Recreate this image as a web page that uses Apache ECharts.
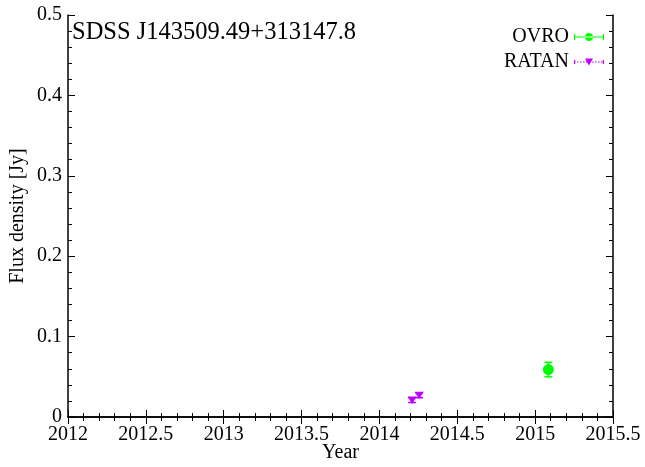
<!DOCTYPE html>
<html>
<head>
<meta charset="utf-8">
<script src="https://cdn.jsdelivr.net/npm/echarts@6/dist/echarts.min.js"></script>
<style>html,body{margin:0;padding:0;background:#fff;}#c{width:645px;height:467px;}</style>
</head>
<body>
<div id="c"></div>
<script>
var titleText = 'SDSS J143509.49+313147.8';
var xTicks = [2012, 2012.5, 2013, 2013.5, 2014, 2014.5, 2015, 2015.5];
var yTicks = [0, 0.1, 0.2, 0.3, 0.4, 0.5];
var ovroYear = [2015.085];
var ovroFlux = [0.059];
var ovroErr = [0.009];
var ratanYear = [2014.21, 2014.255];
var ratanFlux = [0.021, 0.027];
var ratanErr = [0.003, 0.003];

var FONT = 'Liberation Serif';
var ovroColor = '#00ff00';
var ratanColor = '#c000ff';

function zip(xs, ys, es) { return xs.map(function (x, i) { return [x, ys[i], es[i]]; }); }

function makeRender(kind, color) {
  return function (params, api) {
    var x = api.value(0), y = api.value(1), e = api.value(2);
    var p = api.coord([x, y]);
    var lo = api.coord([x, y - e]);
    var hi = api.coord([x, y + e]);
    var cap = 4;
    var children = [
      { type: 'line', shape: { x1: p[0], y1: lo[1], x2: p[0], y2: hi[1] }, style: { stroke: color, lineWidth: 1.5 } },
      { type: 'line', shape: { x1: p[0] - cap, y1: lo[1], x2: p[0] + cap, y2: lo[1] }, style: { stroke: color, lineWidth: 1.5 } },
      { type: 'line', shape: { x1: p[0] - cap, y1: hi[1], x2: p[0] + cap, y2: hi[1] }, style: { stroke: color, lineWidth: 1.5 } }
    ];
    if (kind === 'circle') {
      children.push({ type: 'circle', shape: { cx: p[0], cy: p[1], r: 5.5 }, style: { fill: color } });
    } else {
      children.push({ type: 'polygon', shape: { points: [[p[0] - 4.5, p[1] - 3.5], [p[0] + 4.5, p[1] - 3.5], [p[0], p[1] + 4]] }, style: { fill: color } });
    }
    return { type: 'group', children: children };
  };
}

var ovroIcon = 'path://M0,0h0.1v0.1h-0.1z M29.9,9.9h0.1v0.1h-0.1z M0,4.4h30v1.2h-30z M0,2h1.2v6h-1.2z M28.8,2h1.2v6h-1.2z M11,5a4,4 0 1,0 8,0a4,4 0 1,0 -8,0z';
var dots = '';
for (var i = 0; i < 30; i += 3) { dots += 'M' + i + ',4.4h1.5v1.2h-1.5z '; }
var ratanIcon = 'path://M0,0h0.1v0.1h-0.1z M29.9,9.9h0.1v0.1h-0.1z ' + dots + 'M0,3h1.2v4h-1.2z M28.8,3h1.2v4h-1.2z M11,1.5L19,1.5L15,8.5z';

var chart = echarts.init(document.getElementById('c'), null, { renderer: 'canvas' });

var axisLine = { show: true, lineStyle: { color: '#000', width: 1.5 } };
var tick = { show: true, inside: true, length: 7, lineStyle: { color: '#000', width: 1 } };
var minor = { show: true, splitNumber: 5, length: 4, lineStyle: { color: '#000', width: 1 } };

chart.setOption({
  animation: false,
  backgroundColor: '#fff',
  textStyle: { fontFamily: FONT },
  title: {
    text: titleText, left: 72, top: 20, padding: 0,
    textStyle: { fontFamily: FONT, fontSize: 24.5, fontWeight: 'normal', color: '#000' }
  },
  legend: {
    right: 36, top: 22, orient: 'vertical', align: 'right',
    itemWidth: 30, itemHeight: 10, itemGap: 5,
    textStyle: { fontFamily: FONT, fontSize: 20, color: '#000', lineHeight: 20 },
    data: [{ name: 'OVRO', icon: ovroIcon }, { name: 'RATAN', icon: ratanIcon }]
  },
  grid: { left: 68, right: 32, top: 15, bottom: 50, containLabel: false, outerBoundsMode: 'none' },
  xAxis: [{
    type: 'value', min: xTicks[0], max: xTicks[xTicks.length - 1], interval: 0.5,
    name: 'Year', nameLocation: 'middle', nameGap: 26, nameMoveOverlap: false,
    nameTextStyle: { fontFamily: FONT, fontSize: 20, color: '#000' },
    axisLine: axisLine, axisTick: tick, minorTick: minor,
    splitLine: { show: false },
    axisLabel: { fontFamily: FONT, fontSize: 20, color: '#000', margin: 8, formatter: function (v) { return String(v); } }
  }, {
    type: 'value', position: 'top', min: xTicks[0], max: xTicks[xTicks.length - 1], interval: 0.5,
    axisLine: axisLine, axisTick: tick, minorTick: minor, splitLine: { show: false }, axisLabel: { show: false }
  }],
  yAxis: [{
    type: 'value', min: yTicks[0], max: yTicks[yTicks.length - 1], interval: 0.1,
    name: 'Flux density [Jy]', nameLocation: 'middle', nameGap: 40, nameRotate: 90, nameMoveOverlap: false,
    nameTextStyle: { fontFamily: FONT, fontSize: 20, color: '#000' },
    axisLine: axisLine, axisTick: tick, minorTick: minor,
    splitLine: { show: false },
    axisLabel: { fontFamily: FONT, fontSize: 20, color: '#000', margin: 6, formatter: function (v) { return String(v); } }
  }, {
    type: 'value', position: 'right', min: yTicks[0], max: yTicks[yTicks.length - 1], interval: 0.1,
    axisLine: axisLine, axisTick: tick, minorTick: minor, splitLine: { show: false }, axisLabel: { show: false }
  }],
  series: [{
    name: 'OVRO', type: 'custom', color: ovroColor, itemStyle: { color: ovroColor },
    xAxisIndex: 0, yAxisIndex: 0,
    renderItem: makeRender('circle', ovroColor),
    encode: { x: 0, y: 1 },
    data: zip(ovroYear, ovroFlux, ovroErr)
  }, {
    name: 'RATAN', type: 'custom', color: ratanColor, itemStyle: { color: ratanColor },
    xAxisIndex: 0, yAxisIndex: 0,
    renderItem: makeRender('triangle', ratanColor),
    encode: { x: 0, y: 1 },
    data: zip(ratanYear, ratanFlux, ratanErr)
  }]
});
</script>
</body>
</html>
